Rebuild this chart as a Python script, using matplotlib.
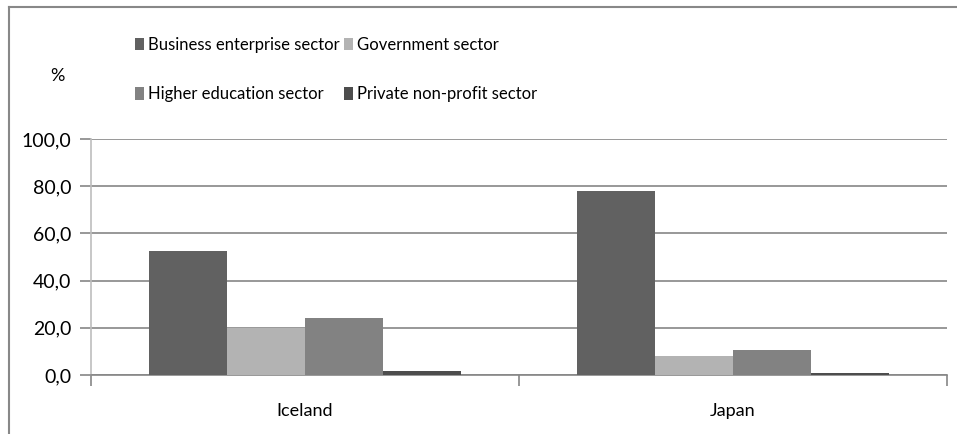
import matplotlib
matplotlib.use("Agg")
import matplotlib.pyplot as plt
from matplotlib.lines import Line2D
import numpy as np

categories = ["Iceland", "Japan"]
series_names = ["Business enterprise sector", "Government sector",
                "Higher education sector", "Private non-profit sector"]
business = [52.5, 78.0]
government = [19.8, 8.1]
higher_ed = [24.2, 10.6]
private_np = [1.7, 1.0]
yticks = [0, 20, 40, 60, 80, 100]
ytick_labels = ["0,0", "20,0", "40,0", "60,0", "80,0", "100,0"]

colors = ["#616161", "#b3b3b3", "#828282", "#4d4d4d"]

plt.rcParams['font.family'] = ['Lato', 'DejaVu Sans']

fig = plt.figure(figsize=(9.57, 4.34), dpi=100)
ax = fig.add_axes([91/957, 1-375/434, 856/957, 236/434])

x = np.arange(len(categories))
w = 0.73 / 4
all_series = [business, government, higher_ed, private_np]
handles = []
for i, (vals, c) in enumerate(zip(all_series, colors)):
    b = ax.bar(x - 0.365 + w*(i+0.5), vals, width=w, color=c, label=series_names[i], zorder=3)
    handles.append(b)

ax.set_xlim(-0.5, 1.5)
ax.set_ylim(0, 100)
ax.set_yticks(yticks)
ax.set_yticklabels(ytick_labels, fontsize=14)
ax.yaxis.grid(True, color="#868686", linewidth=1.2, zorder=0)
ax.set_xticks(x)
ax.set_xticklabels(categories, fontsize=13)
ax.tick_params(axis='x', length=0, pad=20)
ax.tick_params(axis='y', length=8, color="#868686", width=1.2, pad=6)
ax.set_xticks([-0.5, 0.5, 1.5], minor=True)
ax.tick_params(axis='x', which='minor', length=8, color="#868686", width=1.2)
for s in ["top", "right"]:
    ax.spines[s].set_visible(False)
ax.spines["left"].set_color("#bdbdbd")
ax.spines["bottom"].set_color("#868686")
ax.spines["left"].set_linewidth(1.2)
ax.spines["bottom"].set_linewidth(1.2)

# matplotlib fills legend columns first; reorder so rows read like the reference
order = [0, 2, 1, 3]
leg = fig.legend(handles=[handles[i] for i in order],
                 labels=[series_names[i] for i in order], ncol=2,
                 loc="upper left", bbox_to_anchor=(120/957, 1-22/434),
                 frameon=False, fontsize=12, handlelength=0.55, handleheight=0.75,
                 handletextpad=0.25, columnspacing=0.25, labelspacing=2.0)

fig.text(57/957, 1-76/434, "%", fontsize=13, ha="center", va="center")

fig.add_artist(Line2D([9/957, 9/957], [0, 1-7/434], transform=fig.transFigure, color="#888888", lw=1.5))
fig.add_artist(Line2D([9/957, 1], [1-7/434, 1-7/434], transform=fig.transFigure, color="#888888", lw=1.5))

fig.savefig("out.png", dpi=100)
